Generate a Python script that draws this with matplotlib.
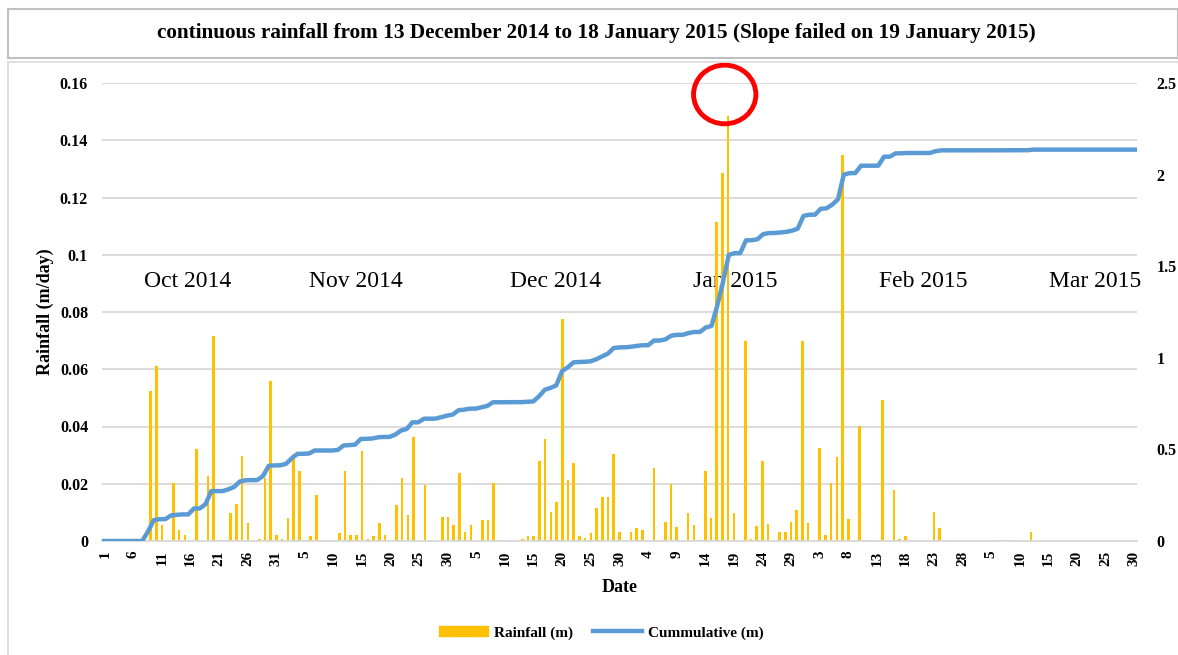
import matplotlib.pyplot as plt
import numpy as np
import pandas as pd
from matplotlib.patches import Ellipse, Rectangle, Patch
from matplotlib.lines import Line2D

plt.rcParams['font.family'] = ['Liberation Serif', 'DejaVu Serif']

# daily rainfall (m/day), one list per month
oct_2014 = [0, 0, 0, 0, 0, 0, 0, 0, 0.0523, 0.0612, 0.0056, 0, 0.0201, 0.0038, 0.0022, 0,
            0.0323, 0.0003, 0.0228, 0.0715, 0.0005, 0, 0.0098, 0.0131, 0.0298, 0.0064,
            0.0003, 0.0007, 0.0219, 0.0558, 0.0022]
nov_2014 = [0.0006, 0.0079, 0.0304, 0.0244, 0, 0.0019, 0.0162, 0, 0, 0, 0.0029, 0.0244,
            0.0022, 0.0022, 0.0314, 0.0006, 0.0019, 0.0063, 0.0022, 0, 0.0127, 0.0220,
            0.0090, 0.0362, 0, 0.0195, 0.0003, 0, 0.0083, 0.0083]
dec_2014 = [0.0057, 0.0237, 0.0031, 0.0057, 0, 0.0073, 0.0073, 0.0201, 0.0002, 0, 0, 0,
            0.0006, 0.0019, 0.0019, 0.0278, 0.0358, 0.0101, 0.0136, 0.0775, 0.0213, 0.0272,
            0.0019, 0.0012, 0.0028, 0.0117, 0.0152, 0.0152, 0.0304, 0.0031, 0.0005]
jan_2015 = [0.0031, 0.0044, 0.0037, 0.0003, 0.0255, 0, 0.0066, 0.0198, 0.0048, 0, 0.0098,
            0.0056, 0.0005, 0.0244, 0.0079, 0.1113, 0.1284, 0.1484, 0.0097, 0, 0.0698,
            0.0006, 0.0054, 0.0279, 0.0058, 0.0003, 0.0031, 0.0031, 0.0066, 0.0108, 0.0698]
feb_2015 = [0.0064, 0.0003, 0.0324, 0.0022, 0.0201, 0.0292, 0.1348, 0.0078, 0.0004, 0.0402,
            0, 0.0002, 0, 0.0492, 0, 0.0178, 0.0007, 0.0017, 0, 0, 0, 0, 0.0100, 0.0044,
            0, 0, 0, 0]
mar_2015 = [0, 0, 0, 0, 0, 0.0003, 0, 0.0005, 0, 0, 0, 0.0031, 0, 0, 0, 0, 0, 0, 0, 0,
            0, 0, 0, 0, 0, 0, 0, 0, 0, 0]

months = ['Oct 2014', 'Nov 2014', 'Dec 2014', 'Jan 2015', 'Feb 2015', 'Mar 2015']

rain = np.array(oct_2014 + nov_2014 + dec_2014 + jan_2015 + feb_2015 + mar_2015)
cumulative = np.cumsum(rain)
dates = pd.date_range('2014-10-01', '2015-03-30', freq='D')
days = np.arange(len(dates))
tick_pos = days[::5]
tick_labels = [str(d.day) for d in dates[::5]]

W, H = 1178, 655
fig = plt.figure(figsize=(W / 100, H / 100), dpi=100)

# frames (title box and chart box)
fig.patches.append(Rectangle((8 / W, 1 - 58 / H), 1170 / W, 49 / H, transform=fig.transFigure,
                             fill=False, ec='#BFBFBF', lw=1.5))
fig.patches.append(Rectangle((8 / W, -0.01), 1.0, 1 - 62 / H + 0.01, transform=fig.transFigure,
                             fill=False, ec='#D9D9D9', lw=1.2))
fig.text(596 / W, 1 - 33 / H,
         'continuous rainfall from 13 December 2014 to 18 January 2015 (Slope failed on 19 January 2015)',
         ha='center', va='center', fontsize=15.3, fontweight='bold')

rect = [102 / W, 1 - 541 / H, (1137 - 102) / W, (541 - 83) / H]
ax = fig.add_axes(rect)
bars = ax.bar(days, rain, width=0.45, color='#FFC000', zorder=2)
ax.set_xlim(-0.5, len(days) - 0.5)
ax.set_ylim(0, 0.16)
ax.set_yticks(np.arange(0, 0.161, 0.02))
ax.set_yticklabels(['0', '0.02', '0.04', '0.06', '0.08', '0.1', '0.12', '0.14', '0.16'],
                   fontsize=11.5, fontweight='bold')
ax.set_xticks(tick_pos)
ax.set_xticklabels(tick_labels, rotation=90, fontsize=11, fontweight='bold')
ax.tick_params(length=0)
ax.tick_params(axis='y', pad=10)
ax.tick_params(axis='x', pad=7)
ax.yaxis.grid(True, color='#D9D9D9', lw=1.3)
ax.set_axisbelow(True)
for s in ['top', 'left', 'right']:
    ax.spines[s].set_visible(False)
ax.spines['bottom'].set_color('#D9D9D9')
ax.spines['bottom'].set_linewidth(1.3)
ax.set_ylabel('Rainfall (m/day)', fontsize=13, fontweight='bold', labelpad=4)
ax.set_xlabel('Date', fontsize=13, fontweight='bold', labelpad=9)

# month names
for x, m in zip([14.4, 43.9, 78.9, 110.2, 143.2, 173.1], months):
    ax.text(x, 0.0908, m, ha='center', va='center', fontsize=17, zorder=1)

# highlight of the failure day
ax.add_patch(Ellipse((108.4, 0.156), 10.9, 0.0205, fill=False, ec='#FF0000', lw=3.5,
                     clip_on=False, zorder=5))

# secondary axes for the cumulative line
ax2 = fig.add_axes(rect, frameon=False)
ax2.plot(days, cumulative, color='#5B9BD5', lw=3.2, solid_capstyle='round', zorder=3)
ax2.set_xlim(0, len(days) - 1)
ax2.set_ylim(0, 2.5)
ax2.set_xticks([])
ax2.yaxis.tick_right()
ax2.set_yticks([0, 0.5, 1, 1.5, 2, 2.5])
ax2.set_yticklabels(['0', '0.5', '1', '1.5', '2', '2.5'], fontsize=11.5, fontweight='bold')
ax2.tick_params(length=0, pad=14)
ax2.patch.set_visible(False)

handles = [Patch(color='#FFC000'), Line2D([], [], color='#5B9BD5', lw=3.2)]
fig.legend(handles, ['Rainfall (m)', 'Cummulative (m)'], loc='center',
           bbox_to_anchor=(601 / W, 1 - 633 / H), ncol=2, frameon=False,
           prop={'weight': 'bold', 'size': 11}, handlelength=3.2, handleheight=0.6,
           columnspacing=1.3, handletextpad=0.4)

fig.savefig('out.png', dpi=100)
